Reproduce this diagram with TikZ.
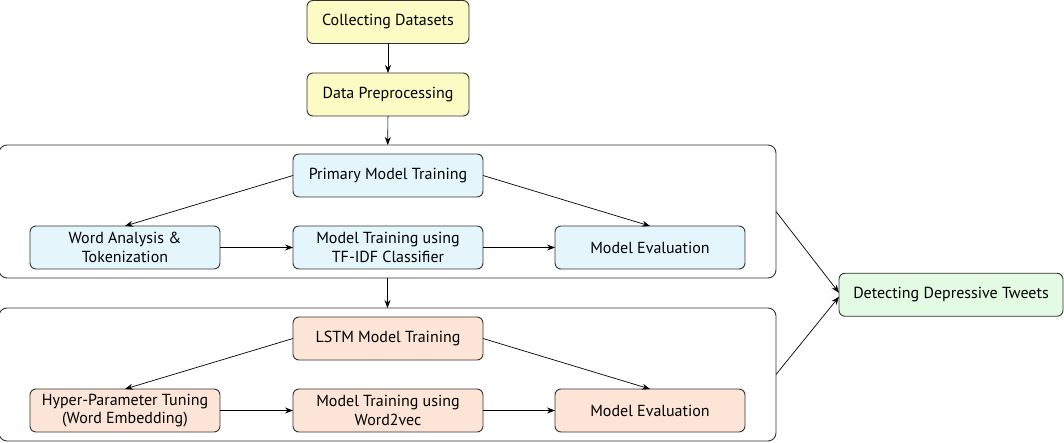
\documentclass[tikz,border=0pt]{standalone}
\usepackage{fontspec}
\setmainfont{PT Sans}
\usetikzlibrary{arrows.meta}
\usetikzlibrary{positioning,fit,calc}
\definecolor{yfill}{HTML}{FBFBC3}
\definecolor{bfill}{HTML}{E4F6FC}
\definecolor{ofill}{HTML}{FCE4D6}
\definecolor{gfill}{HTML}{E2FBE2}
\definecolor{edge}{HTML}{333333}
\begin{document}
\begin{tikzpicture}
    [box/.style={rectangle, rounded corners=6pt, draw=edge, line width=0.9pt, outer sep=0pt, minimum height=43pt, minimum width=190pt, align=center, font=\fontsize{16}{18.5}\selectfont},
     yb/.style={box, fill=yfill, minimum width=162pt},
     bb/.style={box, fill=bfill},
     ob/.style={box, fill=ofill},
     gb/.style={box, fill=gfill, minimum width=224pt},
     grp/.style={rectangle, rounded corners=8pt, draw=edge, line width=0.9pt, outer sep=0pt, inner xsep=31pt, inner ysep=9pt},
     ar/.style={-{Stealth[length=8pt, width=6pt]}, line width=0.7pt, draw=black}]

    \useasboundingbox (-388pt, 22pt) rectangle (676pt, -421pt);

    \node [yb] (c0) {Collecting Datasets};
    \node [yb, below=29.5pt of c0] (c1) {Data Preprocessing};

    \node [bb, below=38pt of c1] (a0) {Primary Model Training};
    \node [bb, below=29pt of a0] (a2) {Model Training using\\TF-IDF Classifier};
    \node [bb, left=73pt of a2] (a1) {Word Analysis \&\\Tokenization};
    \node [bb, right=72pt of a2] (a3) {Model Evaluation};
    \node [grp, fit=(a0)(a1)(a3)] (g1) {};

    \node [ob, below=48pt of a2] (b0) {LSTM Model Training};
    \node [ob, below=29pt of b0] (b2) {Model Training using\\Word2vec};
    \node [ob, left=73pt of b2] (b1) {Hyper-Parameter Tuning\\(Word Embedding)};
    \node [ob, right=72pt of b2] (b3) {Model Evaluation};
    \node [grp, fit=(b0)(b1)(b3)] (g2) {};

    \node [gb, anchor=west] (d) at ([xshift=63pt, yshift=-1.75pt] $(g1.east)!0.5!(g2.east)$) {Detecting Depressive Tweets};

    \draw [ar] (c0) -- (c1);
    \draw [ar] (c1) -- (g1);
    \draw [ar] (g1) -- (g2);

    \draw [ar] (a0.west) -- (a1.north);
    \draw [ar] (a0.east) -- (a3.north);
    \draw [ar] (a1) -- (a2);
    \draw [ar] (a2) -- (a3);

    \draw [ar] (b0.west) -- (b1.north);
    \draw [ar] (b0.east) -- (b3.north);
    \draw [ar] (b1) -- (b2);
    \draw [ar] (b2) -- (b3);

    \draw [ar] (g1.east) -- ([yshift=2pt] d.west);
    \draw [ar] (g2.east) -- ([yshift=-2pt] d.west);
\end{tikzpicture}
\end{document}
